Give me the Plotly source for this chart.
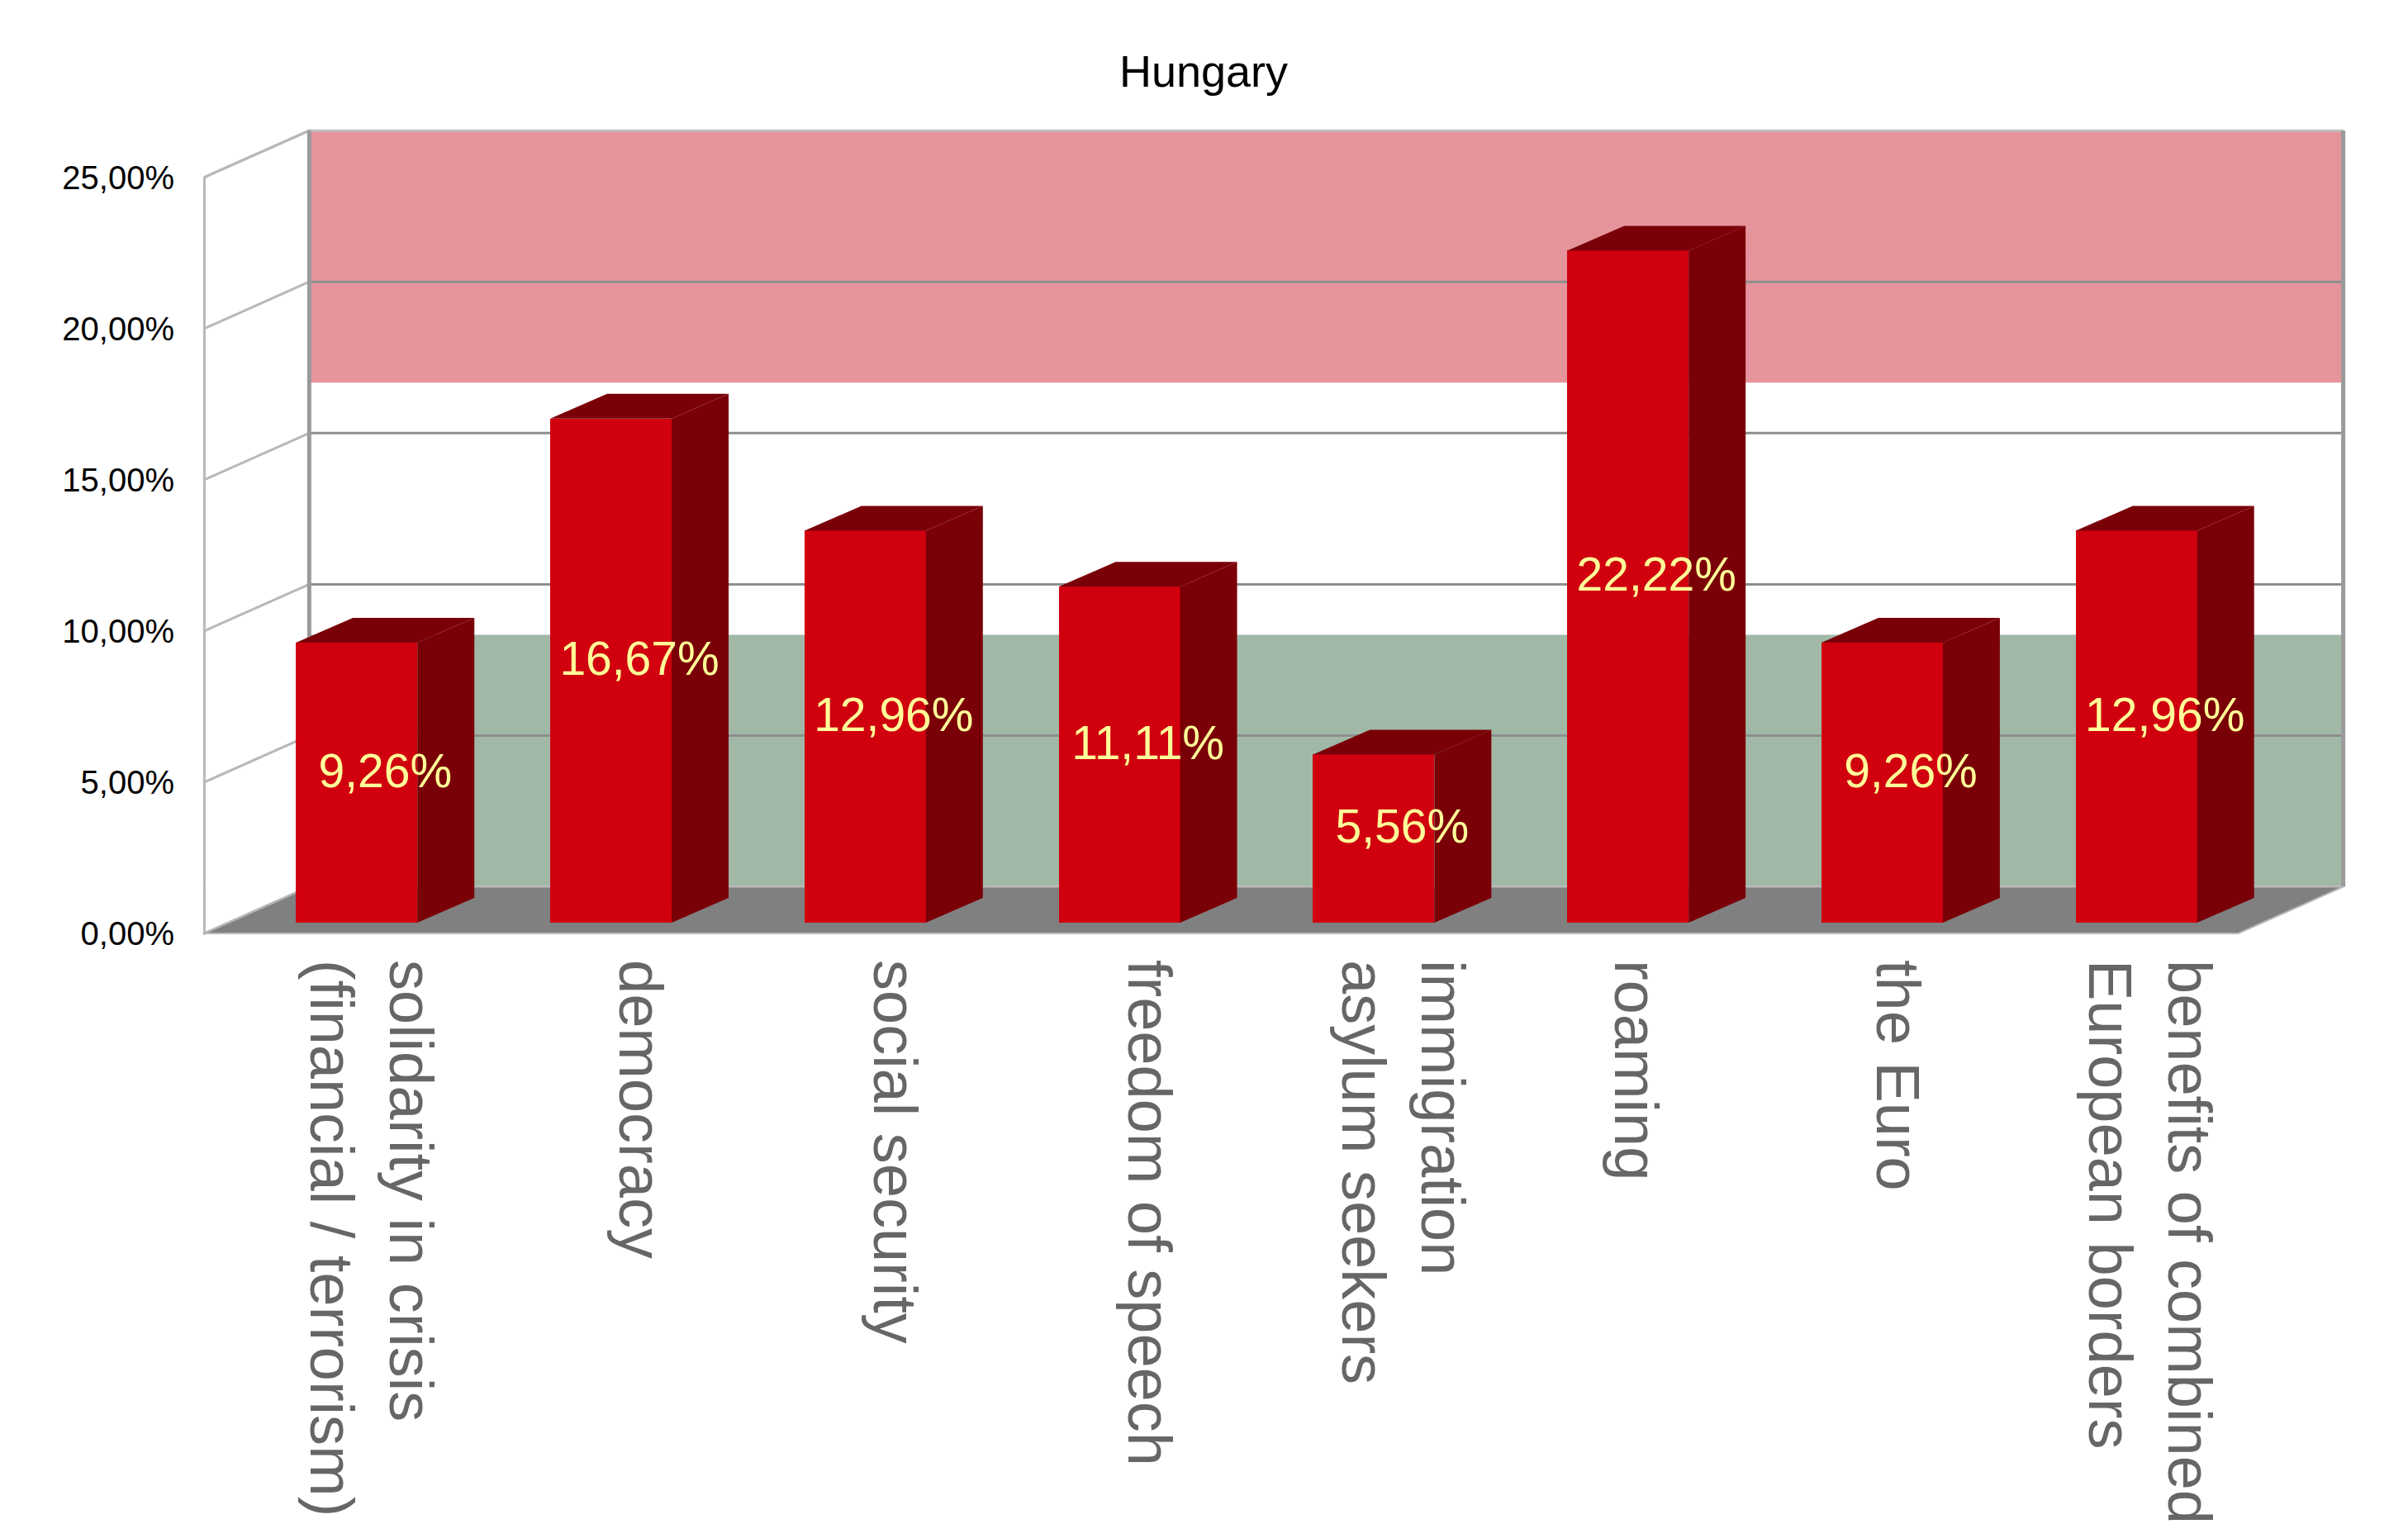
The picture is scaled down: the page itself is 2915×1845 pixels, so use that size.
import plotly.graph_objects as go

categories = [
    "solidarity in crisis<br>(financial / terrorism)",
    "democracy",
    "social security",
    "freedom of speech",
    "immigration<br>asylum seekers",
    "roaming",
    "the Euro",
    "benefits of combined<br>European borders",
]
values = [9.26, 16.67, 12.96, 11.11, 5.56, 22.22, 9.26, 12.96]
value_labels = ["9,26%", "16,67%", "12,96%", "11,11%", "5,56%", "22,22%", "9,26%", "12,96%"]
y_ticks = [0, 5, 10, 15, 20, 25]
y_tick_text = ["0,00%", "5,00%", "10,00%", "15,00%", "20,00%", "25,00%"]
flag_bands = [(0, 8.33, "#a1b8a7"), (16.67, 25, "#e6949b")]

# page pixels of the front plane (body margin of the html page is 8px)
OFF = 8
FX0, FX1 = 247, 2710      # front left / right edge of the floor
FY0, FY25 = 1130.5, 215   # front 0% and 25%
n = len(values)
x_lo, x_hi = -0.5, n - 0.5
px_x = (FX1 - FX0) / (x_hi - x_lo)
px_y = (FY0 - FY25) / 25.0

# oblique depth, in axis units
DX, DY = 127 / px_x, 56.5 / px_y
bx, by = 30.5 / px_x, 13 / px_y        # bar front face offset from front plane
sx, sy = 69 / px_x, 30 / px_y          # bar depth
BAR_W = 147 / px_x
FRONT = "#d0000f"
DARK = "#7a0008"
# small per-label horizontal nudges of the category text (pixels)
label_nudge_px = [-18, 0, 0, 0, 0, -26, -17, -20]

fig = go.Figure()
shapes = []


def poly(xs, ys):
    return "M " + " L ".join(f"{x},{y}" for x, y in zip(xs, ys)) + " Z"


# back wall with the flag bands
shapes.append(dict(type="rect", x0=x_lo + DX, x1=x_hi + DX, y0=DY, y1=25 + DY,
                   fillcolor="white", line_width=0, layer="below"))
for lo, hi, col in flag_bands:
    shapes.append(dict(type="rect", x0=x_lo + DX, x1=x_hi + DX, y0=lo + DY, y1=hi + DY,
                       fillcolor=col, line_width=0, layer="below"))
# left wall
shapes.append(dict(type="path", path=poly([x_lo, x_lo + DX, x_lo + DX, x_lo],
                                          [0, DY, 25 + DY, 25]),
                   fillcolor="white", line=dict(color="#b8b8b8", width=3), layer="below"))
# grid lines
for v in y_ticks:
    shapes.append(dict(type="line", x0=x_lo, y0=v, x1=x_lo + DX, y1=v + DY,
                       line=dict(color="#b8b8b8", width=3), layer="below"))
    shapes.append(dict(type="line", x0=x_lo + DX, y0=v + DY, x1=x_hi + DX, y1=v + DY,
                       line=dict(color="#bdbdbd" if v in (0, 25) else "#8e8e8e", width=3),
                       layer="below"))
for xe in (x_lo + DX, x_hi + DX):
    shapes.append(dict(type="line", x0=xe, y0=DY, x1=xe, y1=25 + DY,
                       line=dict(color="#9a9a9a", width=5), layer="below"))
# floor
shapes.append(dict(type="path", path=poly([x_lo, x_hi, x_hi + DX, x_lo + DX],
                                          [0, 0, DY, DY]),
                   fillcolor="#808080", line=dict(color="#b8b8b8", width=2), layer="below"))

xs_front = [i + bx for i in range(n)]

# side and top faces of the bars
for i, v in enumerate(values):
    xr = xs_front[i] + BAR_W / 2
    xl = xs_front[i] - BAR_W / 2
    fig.add_trace(go.Scatter(
        x=[xr, xr + sx, xr + sx, xr, xr], y=[by, by + sy, by + v + sy, by + v, by],
        fill="toself", fillcolor=DARK, mode="lines", line=dict(width=0),
        hoverinfo="skip", showlegend=False))
    fig.add_trace(go.Scatter(
        x=[xl, xr, xr + sx, xl + sx, xl], y=[by + v, by + v, by + v + sy, by + v + sy, by + v],
        fill="toself", fillcolor=DARK, mode="lines", line=dict(width=0),
        hoverinfo="skip", showlegend=False))

# front faces
fig.add_trace(go.Bar(x=xs_front, y=values, base=by, width=BAR_W,
                     marker=dict(color=FRONT, line=dict(width=0)),
                     hoverinfo="skip", showlegend=False))

# value labels
fig.add_trace(go.Scatter(
    x=[x + sx / 2 for x in xs_front], y=[v / 2 + by + 0.25 for v in values],
    mode="text", text=value_labels,
    textfont=dict(family="Liberation Sans, Arial", size=57, color="#ffff99"),
    hoverinfo="skip", showlegend=False))

# axis ranges slightly wider than the box so edge lines are not clipped
W, H = 2915 - OFF, 1845 - OFF
xr0, xr1 = x_lo - 0.05, x_hi + DX + 0.05
yr0, yr1 = -0.3, 25 + DY + 0.25
left = FX0 - OFF - (x_lo - xr0) * px_x
right = W - (FX0 - OFF + (xr1 - x_lo) * px_x)
bottom = H - (FY0 - OFF + (0 - yr0) * px_y)
top = FY0 - OFF - yr1 * px_y

fig.update_layout(
    width=W, height=H,
    paper_bgcolor="white", plot_bgcolor="rgba(0,0,0,0)",
    margin=dict(l=left, r=right, t=top, b=bottom, pad=0, autoexpand=False),
    shapes=shapes,
    bargap=0,
    title=dict(text="Hungary", x=(1457 - OFF) / W, xanchor="center",
               y=1 - (86 - OFF) / H, yanchor="middle",
               font=dict(family="Liberation Sans, Arial", size=54, color="black")),
    font=dict(family="Liberation Sans, Arial"),
)
fig.update_xaxes(
    range=[xr0, xr1], showgrid=False, zeroline=False, showline=False, automargin=False,
    tickmode="array",
    tickvals=[x + sx / 2 + d / px_x for x, d in zip(xs_front, label_nudge_px)],
    ticktext=categories,
    tickangle=90, ticks="", ticklabelstandoff=20,
    tickfont=dict(family="Liberation Sans, Arial", size=74, color="#666666"),
)
fig.update_yaxes(
    range=[yr0, yr1], showgrid=False, zeroline=False, showline=False, automargin=False,
    tickmode="array", tickvals=y_ticks, ticktext=y_tick_text,
    ticks="", ticklabelstandoff=20,
    tickfont=dict(family="Liberation Sans, Arial", size=40, color="black"),
)

fig.write_html("out.html")
